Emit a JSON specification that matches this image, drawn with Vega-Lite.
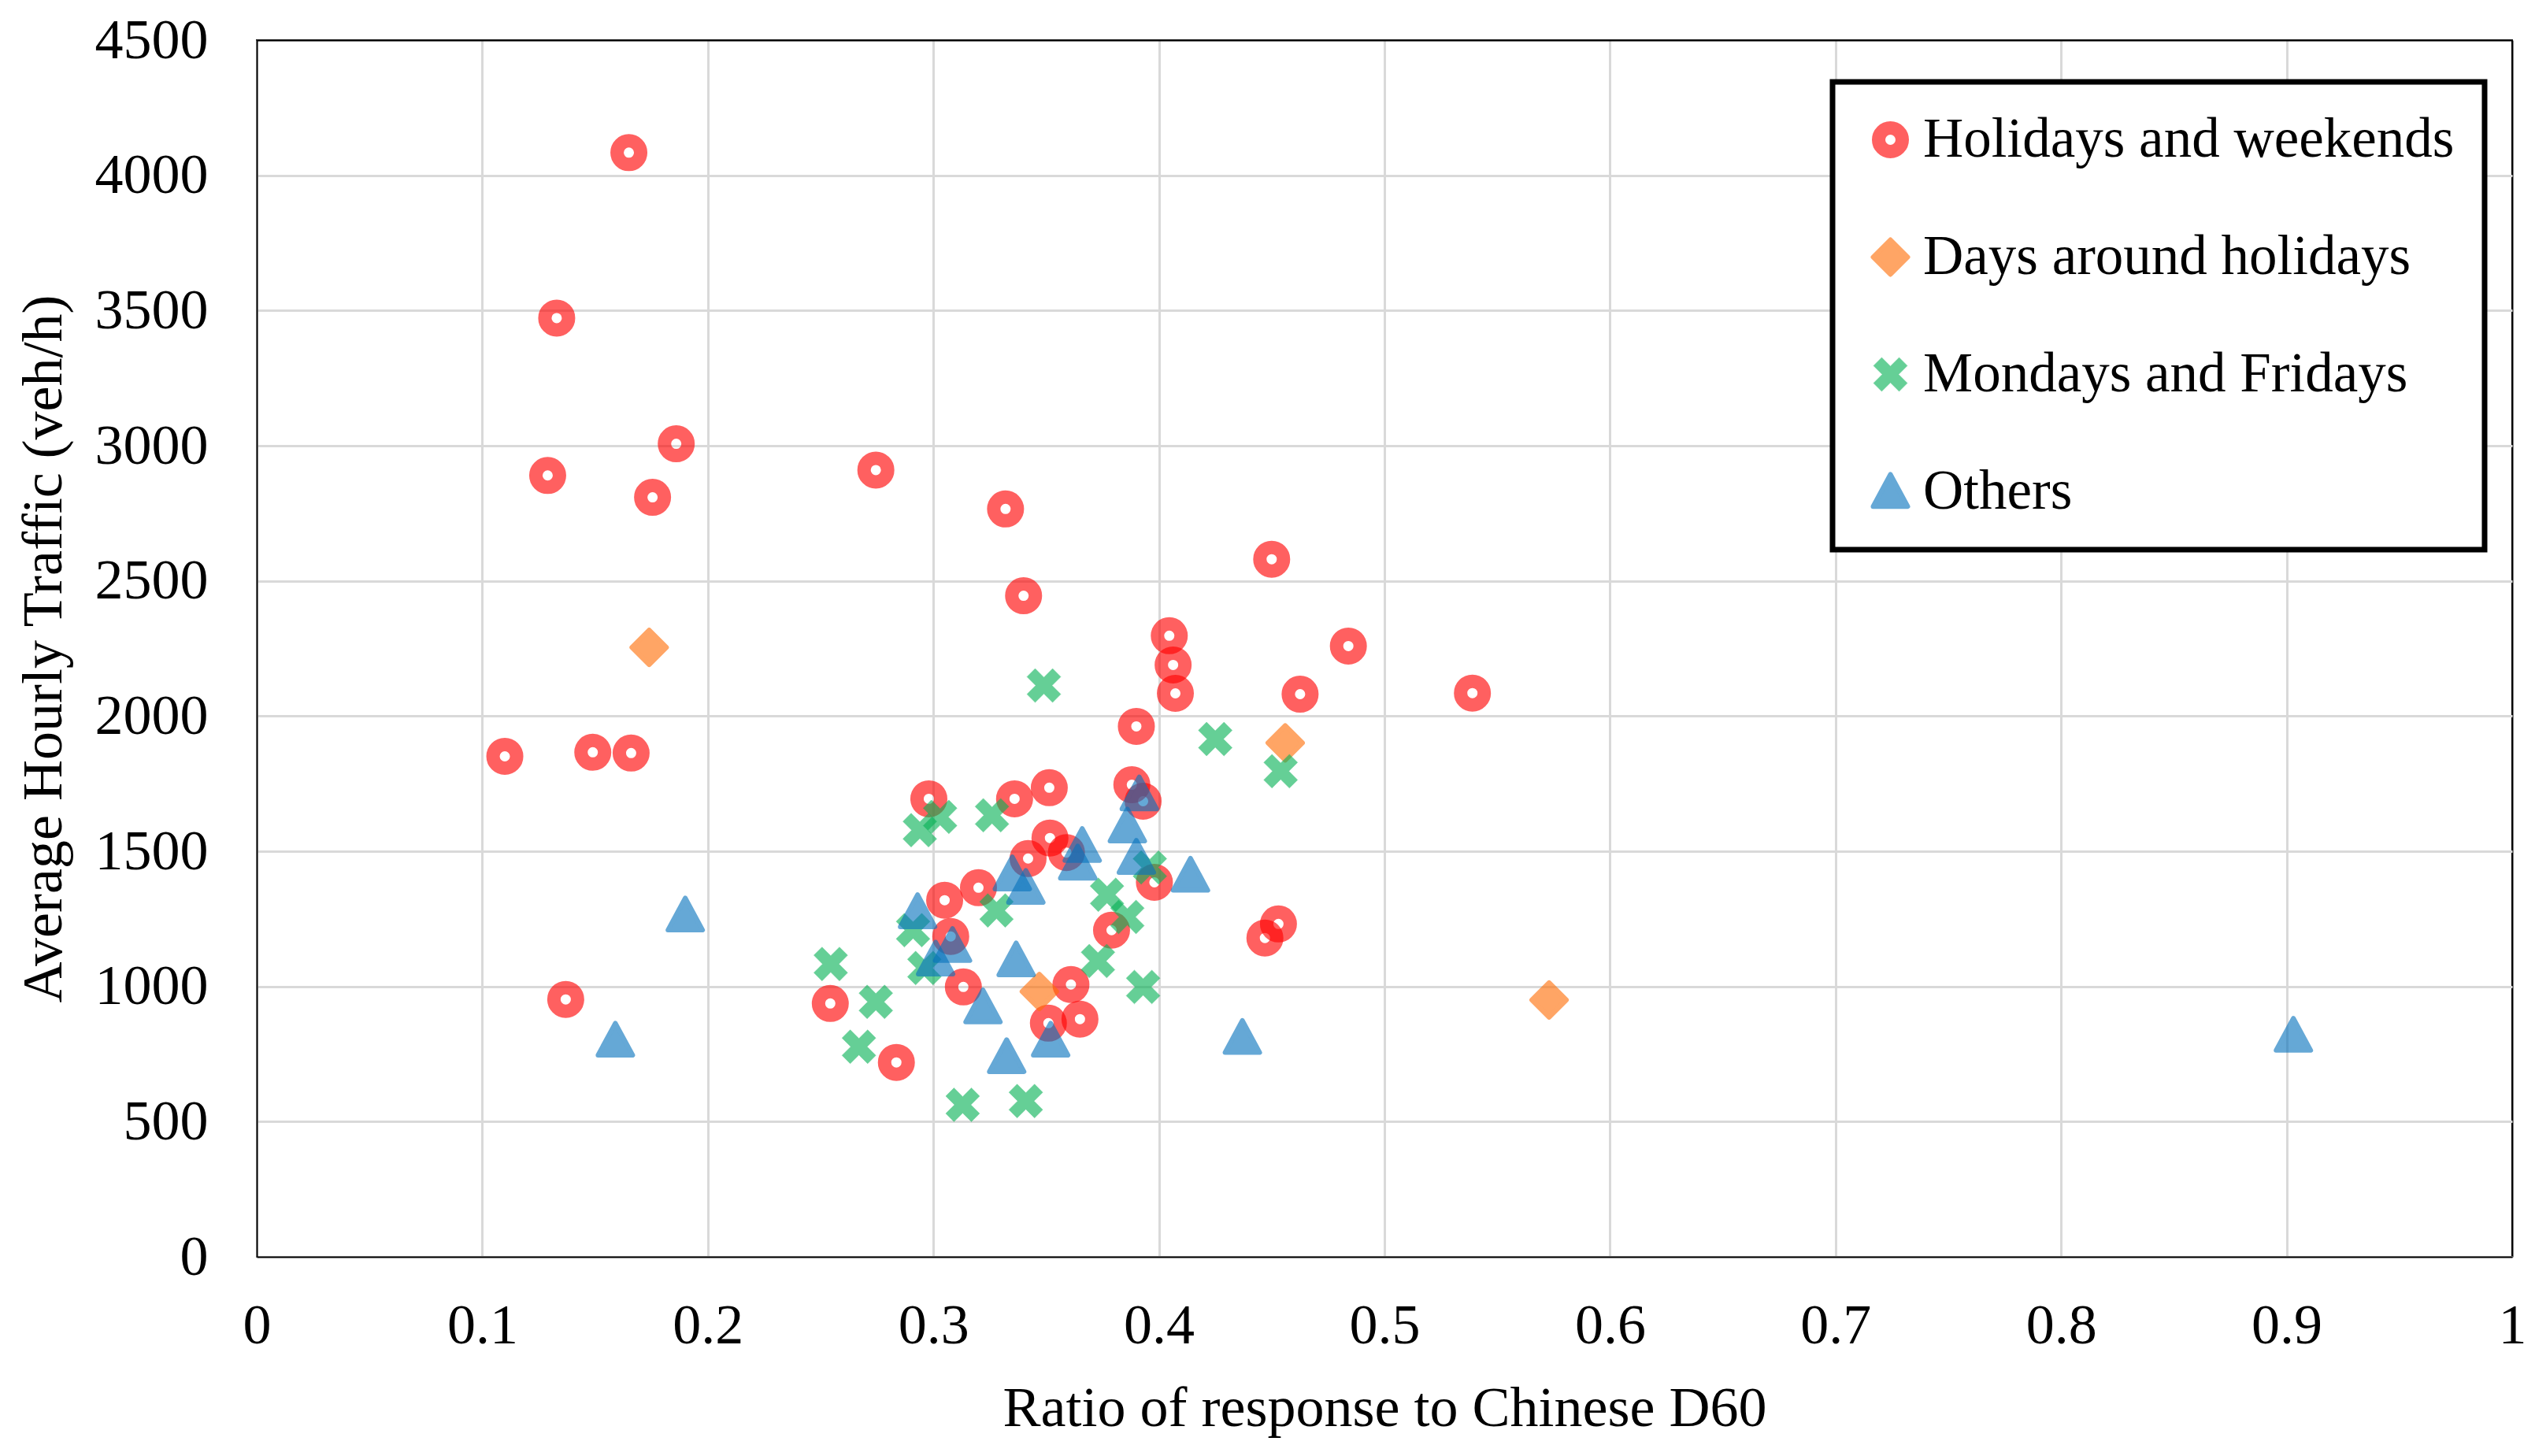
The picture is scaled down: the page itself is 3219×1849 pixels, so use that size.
{
  "$schema": "https://vega.github.io/schema/vega-lite/v6.json",
  "autosize": {"type": "none"},
  "padding": {"left": 326, "top": 51, "right": 29, "bottom": 253},
  "width": 2864,
  "height": 1545,
  "background": "white",
  "data": {
    "values": [
      {"r": 0.165, "v": 4084, "c": "Holidays and weekends"},
      {"r": 0.133, "v": 3472, "c": "Holidays and weekends"},
      {"r": 0.129, "v": 2890, "c": "Holidays and weekends"},
      {"r": 0.186, "v": 3007, "c": "Holidays and weekends"},
      {"r": 0.1755, "v": 2809, "c": "Holidays and weekends"},
      {"r": 0.110, "v": 1851, "c": "Holidays and weekends"},
      {"r": 0.149, "v": 1866, "c": "Holidays and weekends"},
      {"r": 0.166, "v": 1863, "c": "Holidays and weekends"},
      {"r": 0.137, "v": 952, "c": "Holidays and weekends"},
      {"r": 0.2745, "v": 2910, "c": "Holidays and weekends"},
      {"r": 0.332, "v": 2766, "c": "Holidays and weekends"},
      {"r": 0.340, "v": 2445, "c": "Holidays and weekends"},
      {"r": 0.450, "v": 2580, "c": "Holidays and weekends"},
      {"r": 0.539, "v": 2085, "c": "Holidays and weekends"},
      {"r": 0.4046, "v": 2297, "c": "Holidays and weekends"},
      {"r": 0.4063, "v": 2189, "c": "Holidays and weekends"},
      {"r": 0.4073, "v": 2084, "c": "Holidays and weekends"},
      {"r": 0.4626, "v": 2081, "c": "Holidays and weekends"},
      {"r": 0.484, "v": 2259, "c": "Holidays and weekends"},
      {"r": 0.390, "v": 1962, "c": "Holidays and weekends"},
      {"r": 0.388, "v": 1746, "c": "Holidays and weekends"},
      {"r": 0.393, "v": 1685, "c": "Holidays and weekends"},
      {"r": 0.298, "v": 1694, "c": "Holidays and weekends"},
      {"r": 0.336, "v": 1694, "c": "Holidays and weekends"},
      {"r": 0.3514, "v": 1735, "c": "Holidays and weekends"},
      {"r": 0.3517, "v": 1549, "c": "Holidays and weekends"},
      {"r": 0.342, "v": 1473, "c": "Holidays and weekends"},
      {"r": 0.359, "v": 1495, "c": "Holidays and weekends"},
      {"r": 0.320, "v": 1365, "c": "Holidays and weekends"},
      {"r": 0.305, "v": 1319, "c": "Holidays and weekends"},
      {"r": 0.3077, "v": 1185, "c": "Holidays and weekends"},
      {"r": 0.3133, "v": 998, "c": "Holidays and weekends"},
      {"r": 0.361, "v": 1007, "c": "Holidays and weekends"},
      {"r": 0.351, "v": 864, "c": "Holidays and weekends"},
      {"r": 0.365, "v": 879, "c": "Holidays and weekends"},
      {"r": 0.2543, "v": 937, "c": "Holidays and weekends"},
      {"r": 0.2836, "v": 719, "c": "Holidays and weekends"},
      {"r": 0.379, "v": 1208, "c": "Holidays and weekends"},
      {"r": 0.398, "v": 1385, "c": "Holidays and weekends"},
      {"r": 0.447, "v": 1179, "c": "Holidays and weekends"},
      {"r": 0.453, "v": 1231, "c": "Holidays and weekends"},
      {"r": 0.174, "v": 2254, "c": "Days around holidays"},
      {"r": 0.456, "v": 1901, "c": "Days around holidays"},
      {"r": 0.347, "v": 981, "c": "Days around holidays"},
      {"r": 0.573, "v": 950, "c": "Days around holidays"},
      {"r": 0.349, "v": 2113, "c": "Mondays and Fridays"},
      {"r": 0.425, "v": 1915, "c": "Mondays and Fridays"},
      {"r": 0.454, "v": 1796, "c": "Mondays and Fridays"},
      {"r": 0.294, "v": 1578, "c": "Mondays and Fridays"},
      {"r": 0.303, "v": 1627, "c": "Mondays and Fridays"},
      {"r": 0.326, "v": 1633, "c": "Mondays and Fridays"},
      {"r": 0.291, "v": 1208, "c": "Mondays and Fridays"},
      {"r": 0.328, "v": 1281, "c": "Mondays and Fridays"},
      {"r": 0.296, "v": 1068, "c": "Mondays and Fridays"},
      {"r": 0.2545, "v": 1083, "c": "Mondays and Fridays"},
      {"r": 0.2745, "v": 943, "c": "Mondays and Fridays"},
      {"r": 0.267, "v": 777, "c": "Mondays and Fridays"},
      {"r": 0.313, "v": 562, "c": "Mondays and Fridays"},
      {"r": 0.341, "v": 576, "c": "Mondays and Fridays"},
      {"r": 0.377, "v": 1339, "c": "Mondays and Fridays"},
      {"r": 0.386, "v": 1257, "c": "Mondays and Fridays"},
      {"r": 0.373, "v": 1094, "c": "Mondays and Fridays"},
      {"r": 0.393, "v": 998, "c": "Mondays and Fridays"},
      {"r": 0.396, "v": 1440, "c": "Mondays and Fridays"},
      {"r": 0.903, "v": 818, "c": "Others"},
      {"r": 0.190, "v": 1263, "c": "Others"},
      {"r": 0.159, "v": 800, "c": "Others"},
      {"r": 0.293, "v": 1275, "c": "Others"},
      {"r": 0.301, "v": 1100, "c": "Others"},
      {"r": 0.3085, "v": 1150, "c": "Others"},
      {"r": 0.322, "v": 923, "c": "Others"},
      {"r": 0.3325, "v": 739, "c": "Others"},
      {"r": 0.3367, "v": 1097, "c": "Others"},
      {"r": 0.352, "v": 800, "c": "Others"},
      {"r": 0.335, "v": 1415, "c": "Others"},
      {"r": 0.341, "v": 1365, "c": "Others"},
      {"r": 0.366, "v": 1520, "c": "Others"},
      {"r": 0.364, "v": 1455, "c": "Others"},
      {"r": 0.3913, "v": 1711, "c": "Others"},
      {"r": 0.386, "v": 1592, "c": "Others"},
      {"r": 0.390, "v": 1476, "c": "Others"},
      {"r": 0.414, "v": 1410, "c": "Others"},
      {"r": 0.437, "v": 810, "c": "Others"}
    ]
  },
  "mark": {"type": "point", "opacity": 0.62, "strokeJoin": "round"},
  "encoding": {
    "x": {
      "field": "r", "type": "quantitative",
      "scale": {"domain": [0, 1], "nice": false, "zero": false},
      "axis": {
        "title": "Ratio of response to Chinese D60",
        "values": [0, 0.1, 0.2, 0.3, 0.4, 0.5, 0.6, 0.7, 0.8, 0.9, 1],
        "format": "~g",
        "labelPadding": 52,
        "titlePadding": 34,
        "gridColor": {"condition": {"test": "datum.value >= 1", "value": "black"}, "value": "#D9D9D9"},
        "gridWidth": {"condition": {"test": "datum.value >= 1", "value": 2}, "value": 3}
      }
    },
    "y": {
      "field": "v", "type": "quantitative",
      "scale": {"domain": [0, 4500], "nice": false},
      "axis": {
        "title": "Average Hourly Traffic (veh/h)",
        "values": [0, 500, 1000, 1500, 2000, 2500, 3000, 3500, 4000, 4500],
        "format": "d",
        "labelPadding": 62,
        "titlePadding": 34,
        "gridColor": {"condition": {"test": "datum.value >= 4500", "value": "black"}, "value": "#D9D9D9"},
        "gridWidth": {"condition": {"test": "datum.value >= 4500", "value": 2}, "value": 3}
      }
    },
    "shape": {
      "field": "c", "type": "nominal",
      "scale": {
        "domain": ["Holidays and weekends", "Days around holidays", "Mondays and Fridays", "Others"],
        "range": ["circle", "diamond", "M0.481,-0.933L0.933,-0.481L0.4525,0L0.933,0.481L0.481,0.933L0,0.4525L-0.481,0.933L-0.933,0.481L-0.4525,0L-0.933,-0.481L-0.481,-0.933L0,-0.4525Z", "M0,-1L1,0.85L-1,0.85Z"]
      },
      "legend": {
        "orient": "none", "legendX": 2001, "legendY": 53,
        "title": null,
        "padding": 38, "rowPadding": 77, "labelOffset": 6,
        "strokeColor": "black", "fillColor": "white",
        "labelFont": "Liberation Serif", "labelFontSize": 71, "labelColor": "black", "labelLimit": 0,
        "symbolOpacity": 0.62, "symbolSize": 1936,
        "encode": {
          "legend": {"update": {"strokeWidth": {"value": 7}, "stroke": {"value": "black"}}},
          "symbols": {"update": {
            "strokeWidth": {"signal": "datum.value == 'Holidays and weekends' ? 17 : datum.value == 'Mondays and Fridays' ? 0.5 : 6"},
            "size": {"signal": "datum.value == 'Holidays and weekends' ? 900 : datum.value == 'Mondays and Fridays' ? 2116 : 1936"},
            "strokeJoin": {"value": "round"}
          }}
        }
      }
    },
    "fill": {
      "field": "c", "type": "nominal",
      "scale": {
        "domain": ["Holidays and weekends", "Days around holidays", "Mondays and Fridays", "Others"],
        "range": ["transparent", "#FF6F08", "#08B256", "#0873BD"]
      },
      "legend": {
        "orient": "none", "legendX": 2001, "legendY": 53,
        "title": null,
        "padding": 38, "rowPadding": 77, "labelOffset": 6,
        "strokeColor": "black", "fillColor": "white",
        "labelFont": "Liberation Serif", "labelFontSize": 71, "labelColor": "black", "labelLimit": 0,
        "symbolOpacity": 0.62, "symbolSize": 1936,
        "encode": {
          "legend": {"update": {"strokeWidth": {"value": 7}, "stroke": {"value": "black"}}},
          "symbols": {"update": {
            "strokeWidth": {"signal": "datum.value == 'Holidays and weekends' ? 17 : datum.value == 'Mondays and Fridays' ? 0.5 : 6"},
            "size": {"signal": "datum.value == 'Holidays and weekends' ? 900 : datum.value == 'Mondays and Fridays' ? 2116 : 1936"},
            "strokeJoin": {"value": "round"}
          }}
        }
      }
    },
    "stroke": {
      "field": "c", "type": "nominal",
      "scale": {
        "domain": ["Holidays and weekends", "Days around holidays", "Mondays and Fridays", "Others"],
        "range": ["#FF0000", "#FF6F08", "#08B256", "#0873BD"]
      },
      "legend": {
        "orient": "none", "legendX": 2001, "legendY": 53,
        "title": null,
        "padding": 38, "rowPadding": 77, "labelOffset": 6,
        "strokeColor": "black", "fillColor": "white",
        "labelFont": "Liberation Serif", "labelFontSize": 71, "labelColor": "black", "labelLimit": 0,
        "symbolOpacity": 0.62, "symbolSize": 1936,
        "encode": {
          "legend": {"update": {"strokeWidth": {"value": 7}, "stroke": {"value": "black"}}},
          "symbols": {"update": {
            "strokeWidth": {"signal": "datum.value == 'Holidays and weekends' ? 17 : datum.value == 'Mondays and Fridays' ? 0.5 : 6"},
            "size": {"signal": "datum.value == 'Holidays and weekends' ? 900 : datum.value == 'Mondays and Fridays' ? 2116 : 1936"},
            "strokeJoin": {"value": "round"}
          }}
        }
      }
    },
    "size": {
      "condition": [
        {"test": "datum.c == 'Holidays and weekends'", "value": 900},
        {"test": "datum.c == 'Mondays and Fridays'", "value": 2116}
      ],
      "value": 1936
    },
    "strokeWidth": {
      "condition": [
        {"test": "datum.c == 'Holidays and weekends'", "value": 17},
        {"test": "datum.c == 'Mondays and Fridays'", "value": 0.5}
      ],
      "value": 6
    }
  },
  "config": {
    "view": {"stroke": "black", "strokeWidth": 2},
    "font": "Liberation Serif",
    "axis": {
      "grid": true,
      "ticks": false,
      "domainColor": "black",
      "domainWidth": 2,
      "labelFont": "Liberation Serif",
      "labelFontSize": 72,
      "labelColor": "black",
      "titleFont": "Liberation Serif",
      "titleFontSize": 72,
      "titleFontWeight": "normal",
      "titleColor": "black",
      "labelFlush": false,
      "labelOverlap": false
    }
  }
}
